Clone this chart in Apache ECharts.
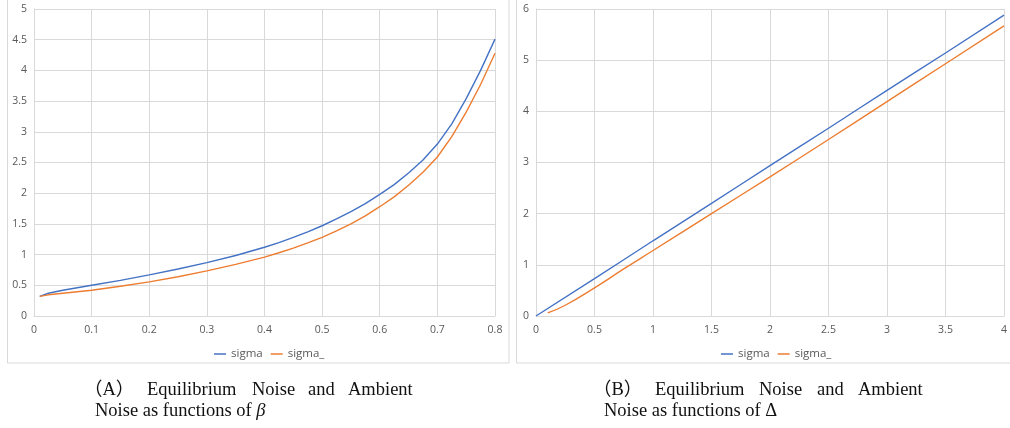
<!DOCTYPE html>
<html>
<head>
<meta charset="utf-8">
<script src="https://cdn.jsdelivr.net/npm/echarts@6/dist/echarts.min.js"></script>
<style>
html,body{margin:0;padding:0;background:#fff;}
#chart{width:1010px;height:428px;}
</style>
</head>
<body>
<div id="chart"></div>
<script>
// ---- Panel A: functions of beta ----
const betaX        = [0.01, 0.025, 0.05, 0.1, 0.15, 0.2, 0.25, 0.3, 0.35, 0.4, 0.425, 0.45, 0.475, 0.5, 0.525, 0.55, 0.575, 0.6, 0.625, 0.65, 0.675, 0.7, 0.725, 0.75, 0.775, 0.8];
const betaSigma    = [0.32, 0.37, 0.42, 0.50, 0.58, 0.67, 0.765, 0.87, 0.985, 1.12, 1.195, 1.28, 1.37, 1.47, 1.58, 1.70, 1.83, 1.98, 2.14, 2.33, 2.54, 2.80, 3.13, 3.54, 4.00, 4.51];
const betaSigmaBar = [0.32, 0.345, 0.37, 0.42, 0.485, 0.555, 0.64, 0.735, 0.84, 0.96, 1.03, 1.105, 1.19, 1.28, 1.385, 1.50, 1.63, 1.78, 1.94, 2.13, 2.34, 2.59, 2.92, 3.32, 3.77, 4.28];

// ---- Panel B: functions of Delta ----
const deltaX        = [0, 0.5, 1, 1.5, 2, 2.5, 3, 3.5, 4];
const deltaSigma    = [0, 0.73, 1.47, 2.20, 2.94, 3.67, 4.41, 5.14, 5.88];
const deltaXBar     = [0.1, 0.25, 0.5, 0.75, 1, 1.5, 2, 2.5, 3, 3.5, 4];
const deltaSigmaBar = [0.06, 0.21, 0.55, 0.92, 1.28, 2.00, 2.72, 3.45, 4.19, 4.93, 5.67];

const seriesNames = ['sigma', 'sigma_'];
const captionA = ['（A）', 'Equilibrium', 'Noise', 'and', 'Ambient'];
const captionA2 = 'Noise as functions of ';
const captionASym = 'β';
const captionB = ['（B）', 'Equilibrium', 'Noise', 'and', 'Ambient'];
const captionB2 = 'Noise as functions of ';
const captionBSym = 'Δ';

const zip = (xs, ys) => xs.map((x, i) => [x, ys[i]]);

const BLUE = '#4472C4', ORANGE = '#ED7D31';
const gridColor = '#d9d9d9';
const labelColor = '#595959';
const uiFont = 'Open Sans';
const serif = '"Liberation Serif", "Noto Sans CJK SC", serif';

function xAxis(gi, max, interval) {
  return {
    type: 'value', gridIndex: gi, min: 0, max: max, interval: interval,
    axisLine: {show: true, lineStyle: {color: gridColor, width: 1}},
    axisTick: {show: false},
    splitLine: {show: true, lineStyle: {color: gridColor, width: 1}},
    axisLabel: {color: labelColor, fontFamily: uiFont, fontSize: 10.5, margin: 9}
  };
}
function yAxis(gi, max, interval) {
  return {
    type: 'value', gridIndex: gi, min: 0, max: max, interval: interval,
    axisLine: {show: true, lineStyle: {color: gridColor, width: 1}},
    axisTick: {show: false},
    splitLine: {show: true, lineStyle: {color: gridColor, width: 1}},
    axisLabel: {color: labelColor, fontFamily: uiFont, fontSize: 10.5, margin: 7}
  };
}
function line(name, data, color, xi, smooth) {
  return {
    name: name, type: 'line', xAxisIndex: xi, yAxisIndex: xi,
    data: data, symbol: 'none', smooth: smooth, animation: false,
    lineStyle: {color: color, width: 1.4}, itemStyle: {color: color}
  };
}

const wordPosA = [84, 147, 252, 308, 348];
const wordPosB = [593, 655, 759, 817, 858];
const graphics = [
  {type: 'rect', shape: {x: 7.5, y: -5, width: 501.5, height: 368}, style: {fill: 'none', stroke: gridColor, lineWidth: 1}, silent: true},
  {type: 'rect', shape: {x: 516.5, y: -5, width: 510, height: 368}, style: {fill: 'none', stroke: gridColor, lineWidth: 1}, silent: true}
];
captionA.forEach((w, i) => graphics.push({type: 'text', x: wordPosA[i], y: 390,
  style: {text: w, font: '18.5px ' + serif, fill: '#111', verticalAlign: 'middle', align: 'left'}}));
captionB.forEach((w, i) => graphics.push({type: 'text', x: wordPosB[i], y: 390,
  style: {text: w, font: '18.5px ' + serif, fill: '#111', verticalAlign: 'middle', align: 'left'}}));
graphics.push({type: 'text', x: 95, y: 411, style: {
  text: '{a|' + captionA2 + '}{b|' + captionASym + '}', verticalAlign: 'middle', align: 'left',
  rich: {a: {fontFamily: serif, fontSize: 18.5, fill: '#111'}, b: {fontFamily: serif, fontSize: 18.5, fontStyle: 'italic', fill: '#111'}}
}});
graphics.push({type: 'text', x: 604, y: 411, style: {
  text: '{a|' + captionB2 + '}{b|' + captionBSym + '}', verticalAlign: 'middle', align: 'left',
  rich: {a: {fontFamily: serif, fontSize: 18.5, fill: '#111'}, b: {fontFamily: serif, fontSize: 18.5, fill: '#111'}}
}});

const legendBase = {
  icon: 'rect', itemWidth: 12, itemHeight: 1.5, itemGap: 8,
  selectedMode: false,
  textStyle: {color: labelColor, fontFamily: uiFont, fontSize: 11.5}
};

const option = {
  animation: false,
  backgroundColor: '#fff',
  grid: [
    {left: 34, top: 9, width: 461, height: 307},
    {left: 536, top: 9, width: 472, height: 307}
  ],
  xAxis: [xAxis(0, 0.8, 0.1), xAxis(1, 4, 0.5)],
  yAxis: [yAxis(0, 5, 0.5), yAxis(1, 6, 1)],
  legend: [
    Object.assign({}, legendBase, {left: 209, top: 343, data: seriesNames}),
    Object.assign({}, legendBase, {left: 716, top: 343, data: seriesNames})
  ],
  series: [
    line(seriesNames[0], zip(betaX, betaSigma), BLUE, 0, false),
    line(seriesNames[1], zip(betaX, betaSigmaBar), ORANGE, 0, false),
    line(seriesNames[0], zip(deltaX, deltaSigma), BLUE, 1, true),
    line(seriesNames[1], zip(deltaXBar, deltaSigmaBar), ORANGE, 1, true)
  ],
  graphic: graphics
};

const chart = echarts.init(document.getElementById('chart'), null, {renderer: 'canvas'});
chart.setOption(option);
</script>
</body>
</html>
